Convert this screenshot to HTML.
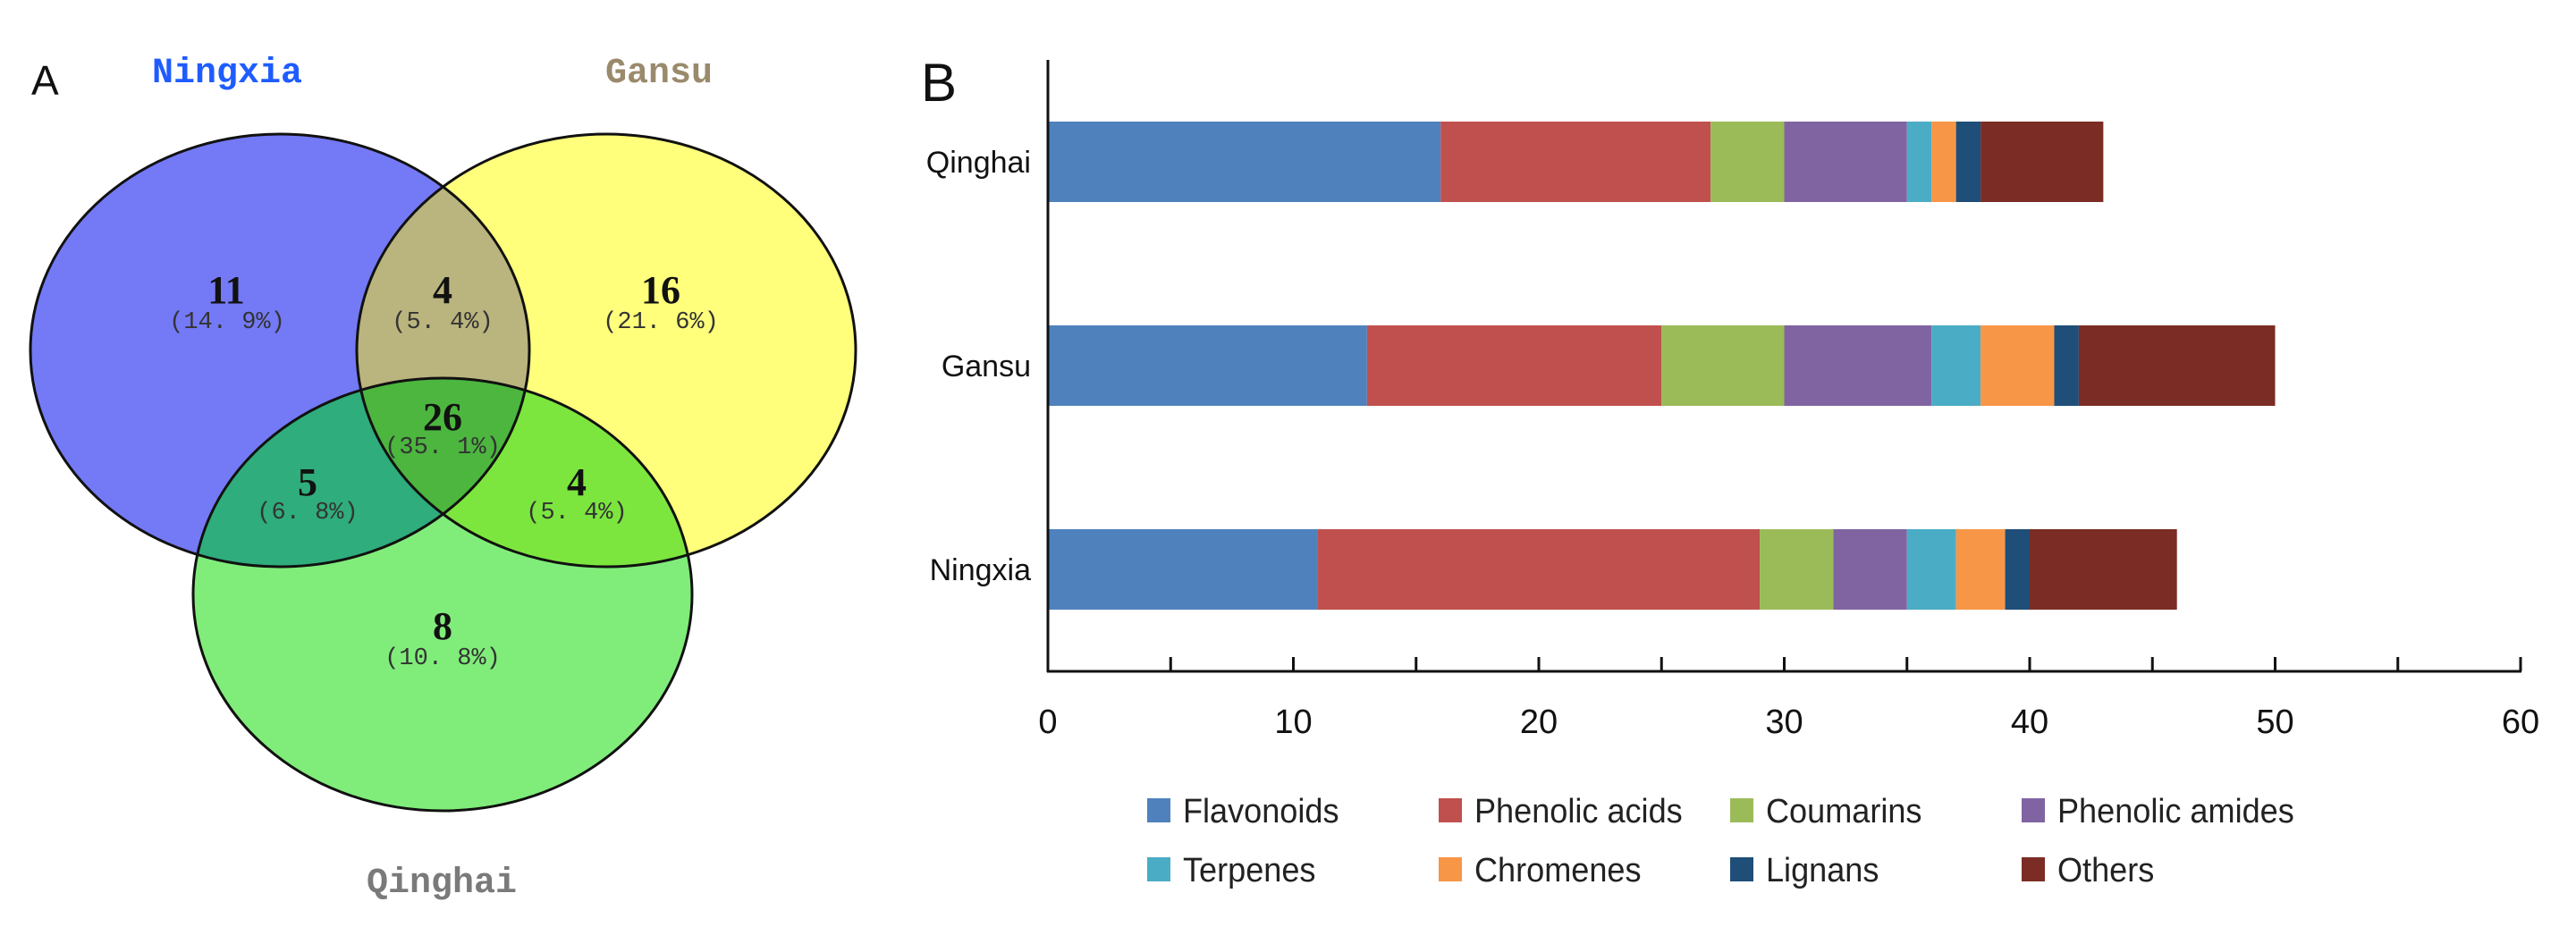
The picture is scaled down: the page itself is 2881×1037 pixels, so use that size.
<!DOCTYPE html>
<html><head><meta charset="utf-8"><style>
html,body{margin:0;padding:0;background:#fff}
svg{display:block}
</style></head><body>
<svg id="fig" width="2881" height="1037" viewBox="0 0 2881 1037" xmlns="http://www.w3.org/2000/svg">
<defs>
  <clipPath id="cN"><ellipse cx="313" cy="392" rx="279" ry="242"/></clipPath>
  <clipPath id="cG"><ellipse cx="678" cy="392" rx="279" ry="242"/></clipPath>
  <clipPath id="cQ"><ellipse cx="495" cy="665" rx="279" ry="242"/></clipPath>
</defs>
<g>
  <text x="35" y="106" font-family="Liberation Sans, sans-serif" font-size="46" fill="#111">A</text>
  <text x="254" y="92" text-anchor="middle" font-family="Liberation Mono, monospace" font-weight="bold" font-size="40" fill="#1f5cff">Ningxia</text>
  <text x="737" y="92" text-anchor="middle" font-family="Liberation Mono, monospace" font-weight="bold" font-size="40" fill="#9a8a6c">Gansu</text>
  <text x="494" y="998" text-anchor="middle" font-family="Liberation Mono, monospace" font-weight="bold" font-size="40" fill="#7a7a7a">Qinghai</text>
  <ellipse cx="313" cy="392" rx="279" ry="242" fill="#7479f6"/>
  <ellipse cx="678" cy="392" rx="279" ry="242" fill="#ffff7c"/>
  <ellipse cx="495" cy="665" rx="279" ry="242" fill="#80ed7a"/>
  <g clip-path="url(#cN)"><ellipse cx="678" cy="392" rx="279" ry="242" fill="#bab47e"/></g>
  <g clip-path="url(#cN)"><ellipse cx="495" cy="665" rx="279" ry="242" fill="#2fad7c"/></g>
  <g clip-path="url(#cG)"><ellipse cx="495" cy="665" rx="279" ry="242" fill="#7ce63e"/></g>
  <g clip-path="url(#cN)"><g clip-path="url(#cG)"><ellipse cx="495" cy="665" rx="279" ry="242" fill="#4cb63f"/></g></g>
  <g fill="none" stroke="#111" stroke-width="3">
    <ellipse cx="313" cy="392" rx="279" ry="242"/>
    <ellipse cx="678" cy="392" rx="279" ry="242"/>
    <ellipse cx="495" cy="665" rx="279" ry="242"/>
  </g>
  <g font-family="Liberation Serif, serif" font-weight="bold" font-size="44" fill="#111" text-anchor="middle">
    <text x="253" y="339">11</text>
    <text x="495" y="339">4</text>
    <text x="739" y="339">16</text>
    <text x="495" y="481">26</text>
    <text x="344" y="554">5</text>
    <text x="645" y="554">4</text>
    <text x="495" y="715">8</text>
  </g>
  <g font-family="Liberation Mono, monospace" font-size="27" fill="#333" text-anchor="middle">
    <text x="254" y="367">(14. 9%)</text>
    <text x="495" y="367">(5. 4%)</text>
    <text x="739" y="367">(21. 6%)</text>
    <text x="495" y="507">(35. 1%)</text>
    <text x="344" y="580">(6. 8%)</text>
    <text x="645" y="580">(5. 4%)</text>
    <text x="495" y="743">(10. 8%)</text>
  </g>
</g>
<text x="1030" y="113" font-family="Liberation Sans, sans-serif" font-size="60" fill="#111">B</text>
<g id="bars"></g>
</svg>
<script>
const regions = ["Qinghai", "Gansu", "Ningxia"];
const seriesNames = ["Flavonoids", "Phenolic acids", "Coumarins", "Phenolic amides", "Terpenes", "Chromenes", "Lignans", "Others"];
const flavonoids = [16, 13, 11];
const phenolicAcids = [11, 12, 18];
const coumarins = [3, 5, 3];
const phenolicAmides = [5, 6, 3];
const terpenes = [1, 2, 2];
const chromenes = [1, 3, 2];
const lignans = [1, 1, 1];
const others = [5, 8, 6];
const xTickLabels = ["0", "10", "20", "30", "40", "50", "60"];

const seriesData = [flavonoids, phenolicAcids, coumarins, phenolicAmides, terpenes, chromenes, lignans, others];
const colors = ["#4f81bd", "#c0504d", "#9bbb59", "#8064a2", "#4bacc6", "#f79646", "#1f4e79", "#7b2c25"];
const NS = "http://www.w3.org/2000/svg";
const g = document.getElementById("bars");
const x0 = 1172, x1 = 2819, xMax = 60;
const yTop = 67, yAxis = 751;
const bandCenters = [181, 409, 637];
const barH = 90;
function xs(v){ return x0 + (v / xMax) * (x1 - x0); }
function mk(tag, attrs){ const e = document.createElementNS(NS, tag); for (const k in attrs) e.setAttribute(k, attrs[k]); return e; }

regions.forEach((r, i) => {
  let acc = 0;
  seriesData.forEach((s, j) => {
    const v = s[i];
    const rect = mk("rect", {x: xs(acc), y: bandCenters[i] - barH/2, width: xs(acc + v) - xs(acc), height: barH, fill: colors[j]});
    
    
    g.appendChild(rect);
    acc += v;
  });
  const t = mk("text", {x: 1153, y: bandCenters[i] + 12, "text-anchor": "end", "font-family": "Liberation Sans, sans-serif", "font-size": "34", fill: "#111"});
  t.textContent = r;
  
  
  g.appendChild(t);
});

const yAx = mk("line", {x1: x0, y1: yTop, x2: x0, y2: yAxis + 1, stroke: "#111", "stroke-width": 3});


g.appendChild(yAx);
const xAx = mk("line", {x1: x0 - 1, y1: yAxis, x2: x1 + 1, y2: yAxis, stroke: "#111", "stroke-width": 3});


g.appendChild(xAx);
for (let v = 5; v <= xMax; v += 5) {
  const tk = mk("line", {x1: xs(v), y1: yAxis - 16, x2: xs(v), y2: yAxis, stroke: "#111", "stroke-width": 3});
  
  
  g.appendChild(tk);
}
xTickLabels.forEach((lab) => {
  const t = mk("text", {x: xs(+lab), y: 820, "text-anchor": "middle", "font-family": "Liberation Sans, sans-serif", "font-size": "38", fill: "#111"});
  t.textContent = lab;
  
  
  g.appendChild(t);
});

const legX = [1283, 1609, 1935, 2261];
const legY = [907, 973];
seriesNames.forEach((n, j) => {
  const cx = legX[j % 4], cy = legY[Math.floor(j / 4)];
  const grp = mk("g", {});
  
  
  grp.appendChild(mk("rect", {x: cx, y: cy - 14, width: 26, height: 27, fill: colors[j]}));
  const t = mk("text", {x: cx + 40, y: cy + 13, "font-family": "Liberation Sans, sans-serif", "font-size": "38", fill: "#222", transform: "translate(" + (cx + 40) + " 0) scale(0.95 1) translate(" + (-(cx + 40)) + " 0)"});
  t.textContent = n;
  grp.appendChild(t);
  g.appendChild(grp);
});
</script>
</body></html>
